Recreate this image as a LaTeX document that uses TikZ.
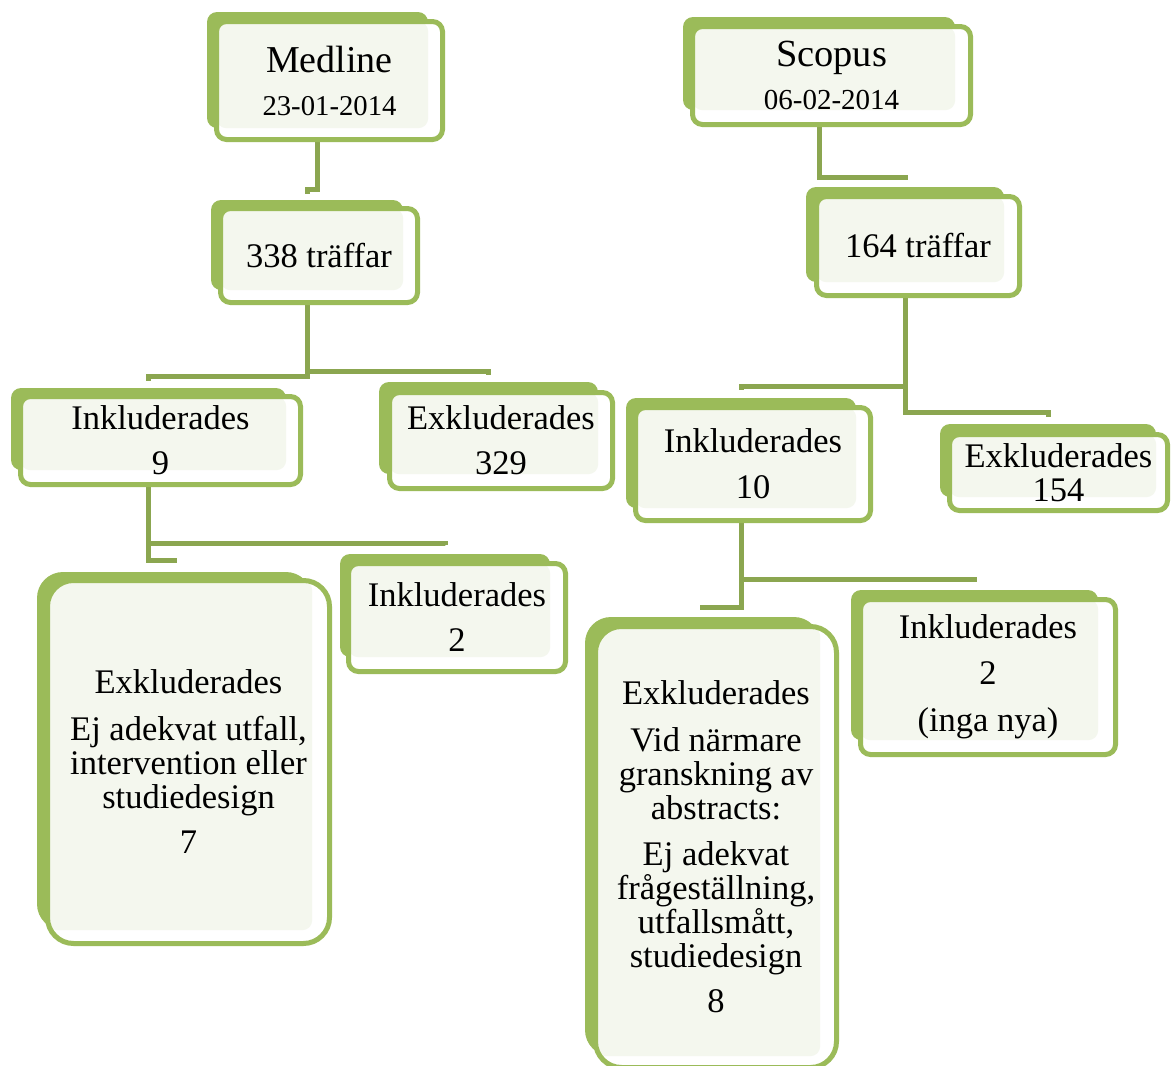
\documentclass[tikz,border=0pt]{standalone}
\usepackage{fontspec}
\setmainfont{Liberation Serif}
\usepackage{xcolor}
\definecolor{olivegreen}{HTML}{9BBB59}
\definecolor{olivedark}{HTML}{8BA650}
\definecolor{olivelight}{HTML}{F4F7EE}
\usetikzlibrary{backgrounds}

\begin{document}
\begin{tikzpicture}[
  x=1pt, y=-1pt,
  back/.style={fill=olivegreen, rounded corners=10pt, inner sep=0pt},
  front/.style={draw=olivegreen, fill=white, line width=5pt, rounded corners=10pt,
                inner sep=0pt, align=center, font=\fontsize{34.5}{34}\selectfont},
  lite/.style={path picture={\fill[olivelight, rounded corners=10pt]
                (path picture bounding box.north west) rectangle (#1.south east);}},
  big/.style={rounded corners=26pt},
  conn/.style={draw=olivedark, line width=5pt}
]
  \useasboundingbox (0,0) rectangle (1171,1066);

  % Medline
  \node[back, minimum width=221pt, minimum height=116pt] (med-b) at (317.5,70) {};
  \node[front, lite=med-b, minimum width=226pt, minimum height=118pt] (med) at (329.5,80.5)
    {{\fontsize{38}{34}\selectfont Medline}\\[9pt]{\fontsize{28.7}{34}\selectfont 23-01-2014}};
  \node[back, minimum width=192pt, minimum height=90pt] (t338-b) at (307,245) {};
  \node[front, lite=t338-b, minimum width=197pt, minimum height=94pt] (t338) at (319,255.5) {338 träffar};
  \node[back, minimum width=275pt, minimum height=82pt] (ink9-b) at (148.5,429) {};
  \node[front, lite=ink9-b, minimum width=280pt, minimum height=88pt] (ink9) at (160.5,440.5)
    {Inkluderades\\[11pt]9};
  \node[back, minimum width=219pt, minimum height=92pt] (exk329-b) at (488.5,428) {};
  \node[front, lite=exk329-b, minimum width=223pt, minimum height=96pt] (exk329) at (501,440.5)
    {Exkluderades\\[11pt]329};
  \node[back, big, minimum width=275pt, minimum height=358pt] (exk7-b) at (174.5,751) {};
  \node[front, big, lite=exk7-b, minimum width=282pt, minimum height=363pt] (exk7) at (188.5,762)
    {Exkluderades\\[13pt]Ej adekvat utfall,\\intervention eller\\studiedesign\\[11pt]7};
  \node[back, minimum width=210pt, minimum height=103pt] (ink2a-b) at (445,605.5) {};
  \node[front, lite=ink2a-b, minimum width=217pt, minimum height=108pt] (ink2a) at (457,617.5)
    {Inkluderades\\[11pt]2};

  % Scopus
  \node[back, minimum width=272pt, minimum height=93pt] (scop-b) at (819,63.5) {};
  \node[front, lite=scop-b, minimum width=278pt, minimum height=98pt] (scop) at (831.5,75.5)
    {{\fontsize{38.4}{34}\selectfont Scopus}\\[9pt]{\fontsize{29}{34}\selectfont 06-02-2014}};
  \node[back, minimum width=198pt, minimum height=95pt] (t164-b) at (905,234.5) {};
  \node[front, lite=t164-b, minimum width=203pt, minimum height=99pt] (t164) at (918,246) {164 träffar};
  \node[back, minimum width=230pt, minimum height=110pt] (ink10-b) at (741,453) {};
  \node[front, lite=ink10-b, minimum width=235pt, minimum height=113pt] (ink10) at (753,464)
    {Inkluderades\\[12pt]10};
  \node[back, minimum width=216pt, minimum height=73pt] (exk154-b) at (1048,460.5) {};
  \node[front, lite=exk154-b, minimum width=218pt, minimum height=76pt] (exk154) at (1058.5,472.5)
    {Exkluderades\\154};
  \node[back, big, minimum width=235pt, minimum height=439pt] (exk8-b) at (702.5,836.5) {};
  \node[front, big, lite=exk8-b, minimum width=241pt, minimum height=441pt] (exk8) at (716,847)
    {Exkluderades\\[13pt]Vid närmare\\granskning av\\abstracts:\\[12pt]Ej adekvat\\frågeställning,\\utfallsmått,\\studiedesign\\[11pt]8};
  \node[back, minimum width=247pt, minimum height=150pt] (ink2b-b) at (974.5,665) {};
  \node[front, lite=ink2b-b, minimum width=255pt, minimum height=155pt] (ink2b) at (988,677)
    {Inkluderades\\[12pt]2\\[13pt](inga nya)};

  % connectors
  \begin{scope}[on background layer]
    \draw[conn] (med-b |- med.south) -- ++(0,47.5) -| ([yshift=6pt]t338-b.north);
    \draw[conn] (t338-b |- t338.south) -- ++(0,71.5) -| ([yshift=7pt]ink9-b.north);
    \draw[conn] (t338-b |- t338.south) -- ++(0,66.5) -| ([yshift=7pt]exk329-b.north);
    \draw[conn] (ink9-b |- ink9.south) -- ++(0,56.5) -| ([yshift=9pt]ink2a-b.north);
    \draw[conn] (ink9-b |- ink9.south) -- ++(0,73.5) -| ([yshift=9pt]exk7-b.north);
    \draw[conn] (scop-b |- scop.south) -- ++(0,50.5) -| ([yshift=7pt]t164-b.north);
    \draw[conn] (t164-b |- t164.south) -- ++(0,88.5) -| ([yshift=8pt]ink10-b.north);
    \draw[conn] (t164-b |- t164.south) -- ++(0,114.5) -| ([yshift=7pt]exk154-b.north);
    \draw[conn] (ink10-b |- ink10.south) -- ++(0,56.5) -| ([yshift=8pt]ink2b-b.north);
    \draw[conn] (ink10-b |- ink10.south) -- ++(0,84.5) -| ([yshift=7pt]exk8-b.north);
  \end{scope}
\end{tikzpicture}
\end{document}
